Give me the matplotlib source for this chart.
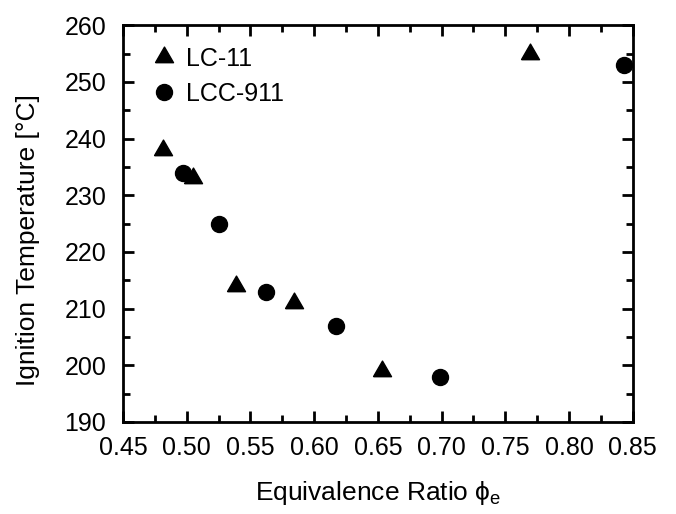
import matplotlib
matplotlib.use("Agg")
import matplotlib.pyplot as plt
from matplotlib.ticker import MultipleLocator

plt.rcParams['font.family'] = ['Liberation Sans', 'DejaVu Sans']
plt.rcParams['mathtext.fontset'] = 'custom'
plt.rcParams['mathtext.rm'] = 'Liberation Sans'

lc11_phi = [0.481, 0.505, 0.539, 0.584, 0.653, 0.769]
lc11_temp = [238, 233, 214, 211, 199, 255]
lcc911_phi = [0.497, 0.525, 0.562, 0.617, 0.699, 0.843]
lcc911_temp = [234, 225, 213, 207, 198, 253]
xticks = [0.45, 0.50, 0.55, 0.60, 0.65, 0.70, 0.75, 0.80, 0.85]
yticks = [190, 200, 210, 220, 230, 240, 250, 260]

tri = [(-1, -0.577), (1, -0.577), (0, 1.155), (-1, -0.577)]

fig = plt.figure(figsize=(6.76, 5.14), dpi=100)
ax = fig.add_axes([0.182, 0.179, 0.754, 0.772])

ax.plot(lc11_phi, lc11_temp, linestyle='none', marker=tri, color='black', markersize=15, label='LC-11', clip_on=False)
ax.plot(lcc911_phi, lcc911_temp, linestyle='none', marker='o', color='black', markersize=11.5, label='LCC-911', clip_on=False)

ax.set_xlim(0.45, 0.85)
ax.set_ylim(190, 260)
ax.set_xticks(xticks)
ax.set_xticklabels([f"{v:.2f}" for v in xticks])
ax.set_yticks(yticks)
ax.set_yticklabels([str(v) for v in yticks])
ax.xaxis.set_minor_locator(MultipleLocator(0.025))
ax.yaxis.set_minor_locator(MultipleLocator(5))
ax.tick_params(which='both', direction='in', top=True, right=True, labelsize=18, width=2)
ax.tick_params(which='major', length=8)
ax.tick_params(axis='x', which='major', pad=10)
ax.tick_params(axis='y', which='major', pad=12)
ax.tick_params(which='minor', length=5)
for s in ax.spines.values():
    s.set_linewidth(2)

ax.set_xlabel('Equivalence Ratio ϕ$_\\mathregular{e}$', fontsize=19, labelpad=14)
ax.set_ylabel('Ignition Temperature [°C]', fontsize=19)
ax.yaxis.set_label_coords(-0.163, 0.458)

ax.legend(loc='upper left', bbox_to_anchor=(0.016, 0.99), frameon=False, fontsize=18,
          handletextpad=0.3, borderaxespad=0.3, labelspacing=0.46, handlelength=1.2)

fig.savefig('out.png', dpi=100)
